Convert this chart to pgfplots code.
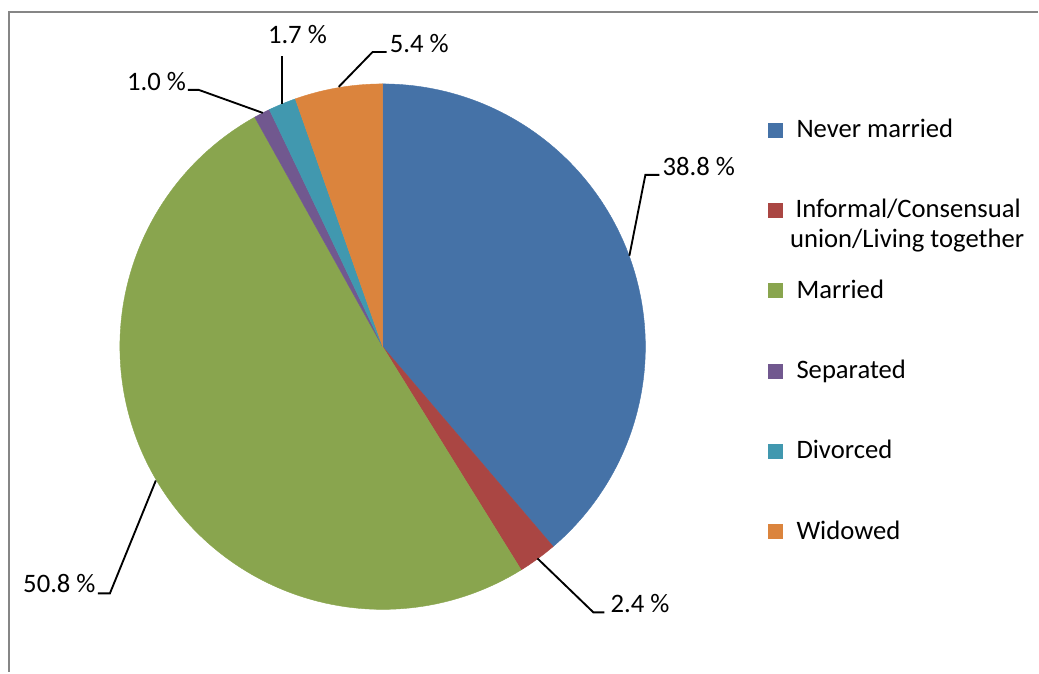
\documentclass[border=0pt]{standalone}
\usepackage{pgfplots}
\pgfplotsset{compat=1.18}
\usepackage{pgfplotstable}
\usepackage{fontspec}
\setmainfont{Carlito}
\definecolor{cNM}{HTML}{4572A7}
\definecolor{cIN}{HTML}{AA4643}
\definecolor{cMA}{HTML}{89A54E}
\definecolor{cSE}{HTML}{71588F}
\definecolor{cDI}{HTML}{4198AF}
\definecolor{cWI}{HTML}{DB843D}
\definecolor{frame}{HTML}{868686}

\pgfplotstableread{
value color
38.8 cNM
2.4 cIN
50.8 cMA
1.0 cSE
1.7 cDI
5.4 cWI
}\piedata

\begin{document}
\begin{tikzpicture}[x=0.75pt,y=0.75pt,lbl/.style={anchor=base west,inner sep=0pt,font=\fontsize{20}{24}\selectfont}]
\path (0,0) rectangle (1039,673);
% frame (top and left visible)
\draw[frame,line width=1.5pt] (1039,660.5) -- (9.5,660.5) -- (9.5,0);

\begin{axis}[at={(287.25pt,244.5pt)},anchor=center,scale only axis,
  width=394.5pt,height=394.5pt,hide axis,
  xmin=-1,xmax=1,ymin=-1,ymax=1,clip=false]
\pgfmathsetmacro{\tot}{0}
\pgfplotsforeachungrouped \i in {0,...,5}{%
  \pgfplotstablegetelem{\i}{value}\of\piedata
  \pgfmathsetmacro{\tot}{\tot+\pgfplotsretval}%
}
\pgfmathsetmacro{\acc}{90}
\pgfplotsforeachungrouped \i in {0,...,5}{%
  \pgfplotstablegetelem{\i}{value}\of\piedata
  \let\v\pgfplotsretval
  \pgfplotstablegetelem{\i}{color}\of\piedata
  \let\c\pgfplotsretval
  \pgfmathsetmacro{\aend}{\acc-(\v/\tot)*360}%
  \edef\doplot{\noexpand\addplot[forget plot,fill=\c,draw=\c,line width=0.3pt,domain=\aend:\acc,samples=120] ({cos(x)},{sin(x)}) -- (axis cs:0,0) -- cycle;}%
  \doplot
  \global\let\acc\aend
}
\end{axis}

% leader lines
\begin{scope}[black,line width=1.4pt]
\draw (630,417) -- (646,498) -- (660,498);
\draw (538,114) -- (594,60) -- (605,60);
\draw (156,192) -- (110,79) -- (98,79);
\draw (263,560) -- (199,583) -- (188,583);
\draw (282,569) -- (282,617);
\draw (339,586) -- (373,621) -- (387,621);
\end{scope}
% data labels
\node[lbl] at (663,497) {38.8 \%};
\node[lbl] at (611,60) {2.4 \%};
\node[lbl] at (23,80) {50.8 \%};
\node[lbl] at (127,582) {1.0 \%};
\node[lbl] at (268,629) {1.7 \%};
\node[lbl] at (390,620) {5.4 \%};

% legend
\fill[cNM] (769,535) rectangle +(15,15);
\node[lbl] at (797,535) {Never married};
\fill[cIN] (769,455) rectangle +(15,15);
\node[lbl,anchor=base] at (909,455) {Informal/Consensual};
\node[lbl,anchor=base] at (908,425) {union/Living together};
\fill[cMA] (769,374.5) rectangle +(15,15);
\node[lbl] at (797,374.5) {Married};
\fill[cSE] (769,294) rectangle +(15,15);
\node[lbl] at (797,294) {Separated};
\fill[cDI] (769,214) rectangle +(15,15);
\node[lbl] at (797,214) {Divorced};
\fill[cWI] (769,133) rectangle +(15,15);
\node[lbl] at (797,133) {Widowed};
\end{tikzpicture}
\end{document}
